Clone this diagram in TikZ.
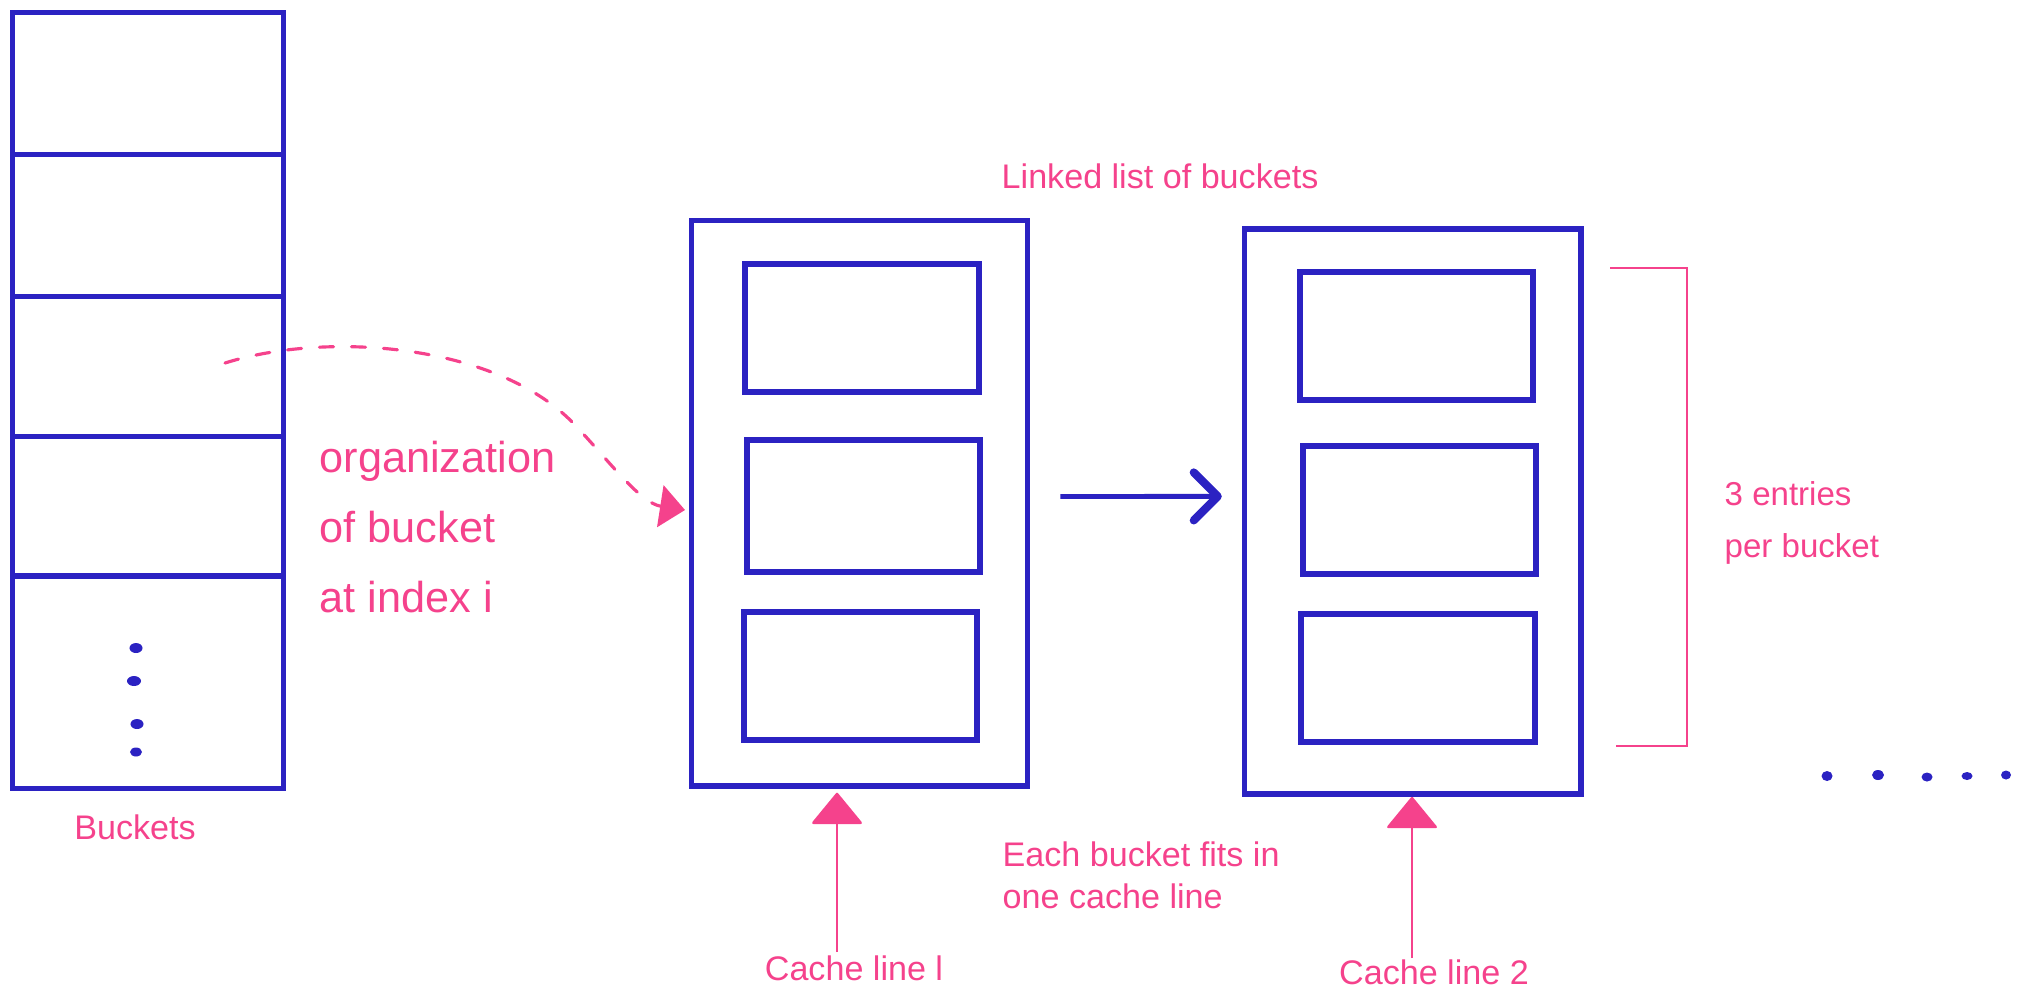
\documentclass[tikz,border=0pt]{standalone}
\usepackage{fontspec}
\setmainfont{Liberation Sans}
\usetikzlibrary{arrows.meta}
\definecolor{inkblue}{RGB}{43,34,194}
\definecolor{inkpink}{RGB}{245,66,140}

\begin{document}
\begin{tikzpicture}[x=0.01cm, y=-0.01cm,
    cell/.style={draw=inkblue, line width=1.4pt, minimum width=2.71cm, inner sep=0},
    bucketbox/.style={draw=inkblue, line width=1.6pt, minimum width=3.36cm, minimum height=5.65cm, inner sep=0},
    entry/.style={draw=inkblue, line width=1.7pt, minimum width=2.33cm, minimum height=1.27cm, inner sep=0},
    note/.style={text=inkpink, font=\fontsize{9.7}{11.9}\selectfont, inner sep=0},
    cachearrow/.style={draw=inkpink, line width=0.7pt, -{Triangle[length=3.2mm, width=5.2mm, round]}},
    nextarrow/.style={draw=inkblue, line width=1.4pt, -{Straight Barb[length=2.4mm, width=4.8mm, line width=2.3pt, round]}},
    orgcurve/.style={draw=inkpink, line width=0.9pt, dash pattern=on 0.14cm off 0.18cm, line cap=round, -{Triangle[length=2.5mm, width=4.2mm]}}]
  \useasboundingbox (0,0) rectangle (2022,999);
  % hash table buckets
  \node[cell, minimum height=1.413cm] (c1) at (148,83.4) {};
  \node[cell, minimum height=1.42cm] (c2) at (148,225) {};
  \node[cell, minimum height=1.40cm] (c3) at (148,366) {};
  \node[cell, minimum height=1.40cm] (c4) at (148,506) {};
  \node[cell, minimum height=2.12cm] (c5) at (148,682) {};
  \fill[inkblue] (136,648) ellipse [x radius=0.065cm, y radius=0.05cm];
  \fill[inkblue] (134,681) ellipse [x radius=0.07cm, y radius=0.05cm];
  \fill[inkblue] (137,724) ellipse [x radius=0.065cm, y radius=0.05cm];
  \fill[inkblue] (136,752) ellipse [x radius=0.06cm, y radius=0.045cm];
  \node[note, anchor=base] (lbl) at (135,839) {Buckets};
  \node[note, font=\fontsize{12.3}{19.9}\selectfont, align=left, anchor=west] (org) at (319,527) {organization\\of bucket\\at index i};
  % linked buckets
  \node[bucketbox] (b1) at (859.5,503) {};
  \node[entry] (e11) at (862,328) {};
  \node[entry, minimum height=1.32cm] (e12) at (863.4,506) {};
  \node[entry] (e13) at (860.7,676) {};
  \node[bucketbox] (b2) at (1412.7,511.4) {};
  \node[entry] (e21) at (1416.5,336) {};
  \node[entry] (e22) at (1419.7,510) {};
  \node[entry] (e23) at (1418,678) {};
  \node[note, anchor=base west] (title) at (1001,188) {Linked list of buckets};
  \draw[nextarrow] ([xshift=0.3cm, yshift=0.065cm]b1.east) -- ([xshift=-0.2cm, yshift=0.15cm]b2.west);
  % entries bracket
  \draw[inkpink, line width=0.6pt] (1610,268) -| (1687,746) -- (1616,746);
  \node[note, font=\fontsize{9.4}{15}\selectfont, align=left, anchor=west] (per) at (1724,523) {3 entries\\per bucket};
  \fill[inkblue] (1827,776) ellipse [x radius=0.055cm, y radius=0.05cm];
  \fill[inkblue] (1878,775) ellipse [x radius=0.06cm, y radius=0.05cm];
  \fill[inkblue] (1927,777) ellipse [x radius=0.055cm, y radius=0.045cm];
  \fill[inkblue] (1967,776) ellipse [x radius=0.055cm, y radius=0.04cm];
  \fill[inkblue] (2006,775) ellipse [x radius=0.05cm, y radius=0.045cm];
  % cache lines
  \node[note, anchor=base] (cl1) at (854,980) {Cache line l};
  \node[note, anchor=base] (cl2) at (1434,984) {Cache line 2};
  \node[note, align=left, anchor=west] (fits) at (1002,875) {Each bucket fits in\\one cache line};
  \coordinate (s1) at (837,952);
  \coordinate (s2) at (1412,958);
  \draw[cachearrow, shorten >=1.2pt] (s1) -- (s1 |- b1.south);
  \draw[cachearrow] (s2) -- (s2 |- b2.south);
  % pointer from index i
  \coordinate (s0) at (225,363);
  \coordinate (t0) at (685,510);
  \draw[orgcurve] (s0) .. controls (330,330) and (500,345) .. (575,425) .. controls (610,462) and (640,503) .. (t0);
\end{tikzpicture}
\end{document}
